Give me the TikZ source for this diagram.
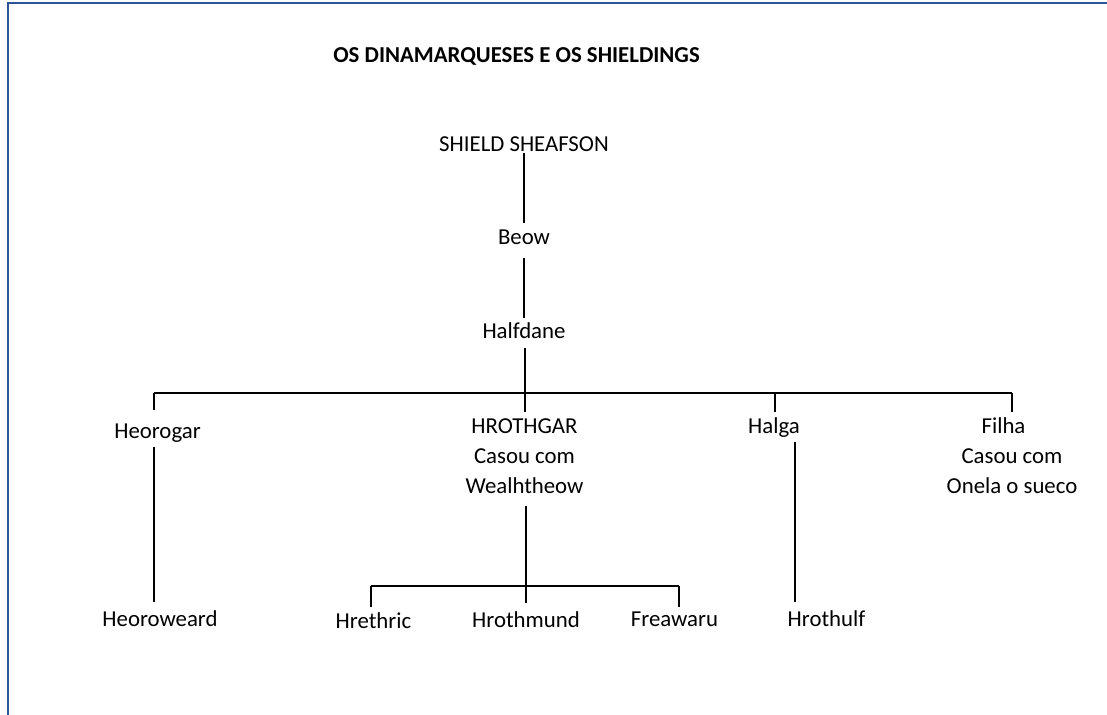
\documentclass[tikz,border=0pt]{standalone}
\usepackage{fontspec}
\setmainfont{Carlito}
\usepackage{tikz}
\usetikzlibrary{positioning}
\definecolor{azulmoldura}{RGB}{47,84,150}
\tikzset{
  pessoa/.style={
    inner sep=0pt,
    outer sep=0pt,
    anchor=base,
    text height=7.5pt,
    text depth=0pt,
    font=\fontsize{11.4pt}{15pt}\selectfont
  },
  bloco/.style={
    inner sep=0pt,
    outer sep=0pt,
    anchor=north,
    align=center,
    font=\fontsize{11.4pt}{15pt}\selectfont
  },
  titulo/.style={
    inner sep=0pt,
    anchor=base,
    font=\fontsize{11.4pt}{15pt}\selectfont\bfseries
  },
  linha/.style={
    line width=0.7pt,
    black
  },
  moldura/.style={
    line width=0.6pt,
    azulmoldura
  }
}

\begin{document}
\begin{tikzpicture}[x=0.5pt,y=-0.5pt,on grid]
\useasboundingbox (0,0) rectangle (1107,715);
\draw[moldura] (1107,3) -- (8,3) -- (8,715);

\node[titulo] (titulo) at (516.5,63) {OS DINAMARQUESES E OS SHIELDINGS};

% tronco
\node[pessoa] (shield) at (524,152) {SHIELD SHEAFSON};
\node[pessoa,below=46.5pt of shield] (beow) {Beow};
\node[pessoa,below=47pt of beow] (halfdane) {Halfdane};

% filhos de Halfdane
\node[pessoa] (heorogar) at (157.5,439) {Heorogar};
\node[bloco] (hrothgar) at (524.5,419) {HROTHGAR\\Casou com\\Wealhtheow};
\node[pessoa] (halga) at (774,434) {Halga};
\node[bloco] (filha) at (1012,418) {Filha\hspace*{8.5pt}\\Casou com\\Onela o sueco};

% netos
\node[pessoa] (heoroweard) at (160,626) {Heoroweard};
\node[pessoa] (hrethric) at (373.5,628) {Hrethric};
\node[pessoa] (hrothmund) at (526,627) {Hrothmund};
\node[pessoa] (freawaru) at (674.5,626) {Freawaru};
\node[pessoa] (hrothulf) at (826.5,626) {Hrothulf};

\coordinate (jheorogar) at (154,393);
\coordinate (jhrothgar) at (525,393);
\coordinate (jhalga) at (775,393);
\coordinate (jfilha) at (1012,393);
\coordinate (lhalga) at (795,500);
\coordinate (jfilhos) at (526,586);
\coordinate (jhrethric) at (371,586);
\coordinate (jfreawaru) at (679,586);

\draw[linha] ([yshift=-0.5pt]shield.south) -- ([yshift=3.5pt]beow.north);
\draw[linha] ([yshift=-6.5pt]beow.south) -- ([yshift=3pt]halfdane.north);
\draw[linha] ([yshift=-4.5pt]jhrothgar |- halfdane.south) -- (jhrothgar);
\draw[linha] (jheorogar) -- (jfilha);

\draw[linha] (jheorogar) -- ([yshift=7pt]jheorogar |- heorogar.north);
\draw[linha] (jhrothgar) -- ([yshift=3.5pt]jhrothgar |- hrothgar.north);
\draw[linha] (jhalga) -- ([yshift=3.5pt]jhalga |- halga.north);
\draw[linha] (jfilha) -- ([yshift=3pt]jfilha |- filha.north);

\draw[linha] ([yshift=-4pt]jheorogar |- heorogar.south) -- ([yshift=4.5pt]jheorogar |- heoroweard.north);
\draw[linha] ([yshift=-4pt]lhalga |- halga.south) -- ([yshift=4.5pt]lhalga |- hrothulf.north);
\draw[linha] ([yshift=-6pt]jfilhos |- hrothgar.south) -- ([yshift=4.5pt]jfilhos |- hrothmund.north);

\draw[linha] (jhrethric) -- (jfreawaru);
\draw[linha] (jhrethric) -- ([yshift=3pt]jhrethric |- hrethric.north);
\draw[linha] (jfreawaru) -- ([yshift=2pt]jfreawaru |- freawaru.north);
\end{tikzpicture}
\end{document}
